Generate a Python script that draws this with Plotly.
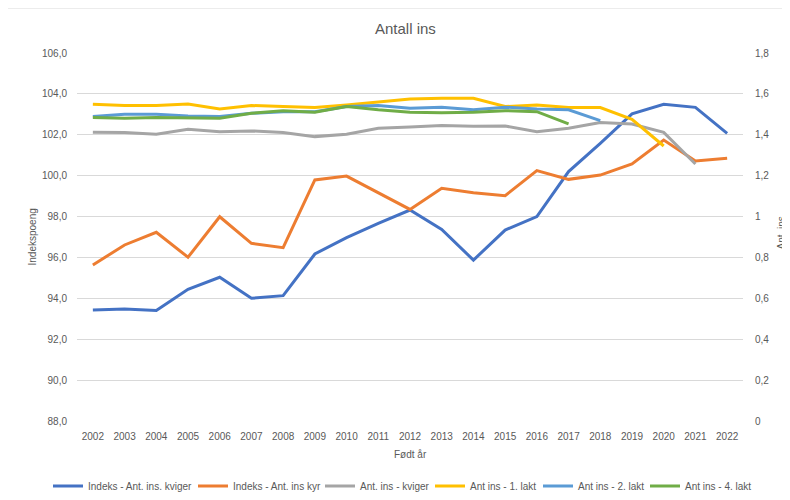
import plotly.graph_objects as go

text_color = '#595959'
grid_color = '#D9D9D9'
font_name = 'Liberation Sans, Arial, sans-serif'

years = [str(y) for y in range(2002, 2023)]

indeks_kviger = [93.43, 93.48, 93.40, 94.44, 95.03, 94.00, 94.13, 96.17, 96.97, 97.67, 98.32,
                 97.37, 95.87, 97.34, 98.00, 100.20, 101.58, 103.02, 103.49, 103.34, 102.07]
indeks_kyr = [95.63, 96.61, 97.23, 96.01, 97.99, 96.69, 96.48, 99.79, 99.98, 99.15, 98.35,
              99.38, 99.17, 99.02, 100.25, 99.82, 100.03, 100.57, 101.74, 100.72, 100.85]
ant_kviger = [1.412, 1.411, 1.403, 1.427, 1.415, 1.419, 1.411, 1.391, 1.403, 1.432, 1.438,
              1.445, 1.442, 1.443, 1.415, 1.432, 1.460, 1.453, 1.412, 1.257]
ant_1_lakt = [1.549, 1.543, 1.543, 1.551, 1.526, 1.543, 1.538, 1.533, 1.546, 1.562, 1.575,
              1.579, 1.579, 1.538, 1.546, 1.533, 1.533, 1.476, 1.345]
ant_2_lakt = [1.489, 1.500, 1.500, 1.492, 1.489, 1.505, 1.513, 1.513, 1.538, 1.543, 1.530,
              1.535, 1.522, 1.535, 1.526, 1.522, 1.469]
ant_4_lakt = [1.484, 1.481, 1.484, 1.481, 1.481, 1.505, 1.517, 1.510, 1.538, 1.522, 1.510,
              1.508, 1.510, 1.518, 1.513, 1.453]

series = [
    ("Indeks - Ant. ins. kviger", indeks_kviger, '#4472C4', 'y'),
    ("Indeks - Ant. ins kyr", indeks_kyr, '#ED7D31', 'y'),
    ("Ant. ins - kviger", ant_kviger, '#A5A5A5', 'y2'),
    ("Ant ins - 1. lakt", ant_1_lakt, '#FFC000', 'y2'),
    ("Ant ins - 2. lakt", ant_2_lakt, '#5B9BD5', 'y2'),
    ("Ant ins - 4. lakt", ant_4_lakt, '#70AD47', 'y2'),
]

# page has an 8px body margin, so figure px = screen px - 8
off = 8

# where each legend label starts in the reference (screen px)
legend_text_x = [88, 233, 360, 470, 578, 685]

data = []
legends = {}
for i, (name, values, color, axis) in enumerate(series):
    key = f'legend{i + 2}'
    data.append(go.Scatter(
        x=years[:len(values)],
        y=values,
        name=name,
        mode='lines',
        yaxis=axis,
        legend=key,
        line=dict(color=color, width=3)))
    legends[key] = dict(orientation='h', xref='container', yref='container',
                        x=(legend_text_x[i] - off - 40) / 790, xanchor='left',
                        y=(500 - (486 - off)) / 500, yanchor='middle', itemwidth=30,
                        bgcolor='rgba(0,0,0,0)',
                        font=dict(size=10, color=text_color))

# plot area on screen: x 77..743, y 53..421 px
def px_x(x):
    return (x - 77) / 666

def px_y(y):
    return (421 - y) / 368

labels = [
    dict(text="Antall ins", x=px_x(405.5), y=px_y(29), size=15, angle=0),
    dict(text="Indekspoeng", x=px_x(31.5), y=px_y(237), size=10, angle=-90),
    dict(text="Ant. ins", x=px_x(781.5), y=px_y(233), size=10, angle=-90),
    dict(text="Født år", x=px_x(410), y=px_y(454), size=10, angle=0),
]
annotations = [dict(text=l['text'], x=l['x'], y=l['y'], xref='paper', yref='paper',
                    xanchor='center', yanchor='middle', showarrow=False, textangle=l['angle'],
                    font=dict(size=l['size'], color=text_color)) for l in labels]

layout = go.Layout(
    width=790, height=500,
    margin=dict(l=77 - off, r=790 - (743 - off), t=53 - off, b=500 - (421 - off), autoexpand=False),
    paper_bgcolor='white',
    plot_bgcolor='white',
    separators=',.',
    showlegend=True,
    font=dict(family=font_name, size=10, color=text_color),
    xaxis=dict(type='category', range=[-0.5, 20.5], showgrid=False, showline=False, ticks='',
               automargin=False, ticklabelstandoff=8,
               tickfont=dict(size=10, color=text_color)),
    yaxis=dict(range=[88, 106], dtick=2, tickformat='.1f', gridcolor=grid_color,
               zeroline=False, showline=False, ticks='', ticklabelstandoff=9, automargin=False),
    yaxis2=dict(range=[0, 1.8], dtick=0.2, overlaying='y', side='right', showgrid=False,
                zeroline=False, showline=False, ticks='', ticklabelstandoff=11, automargin=False),
    annotations=annotations,
    shapes=[dict(type='rect', xref='paper', yref='paper', x0=px_x(7), x1=1.2, y0=-0.3, y1=px_y(8),
                 line=dict(color=grid_color, width=1), layer='below')],
    **legends,
)

fig = go.Figure(data=data, layout=layout)
fig.write_html("out.html")
